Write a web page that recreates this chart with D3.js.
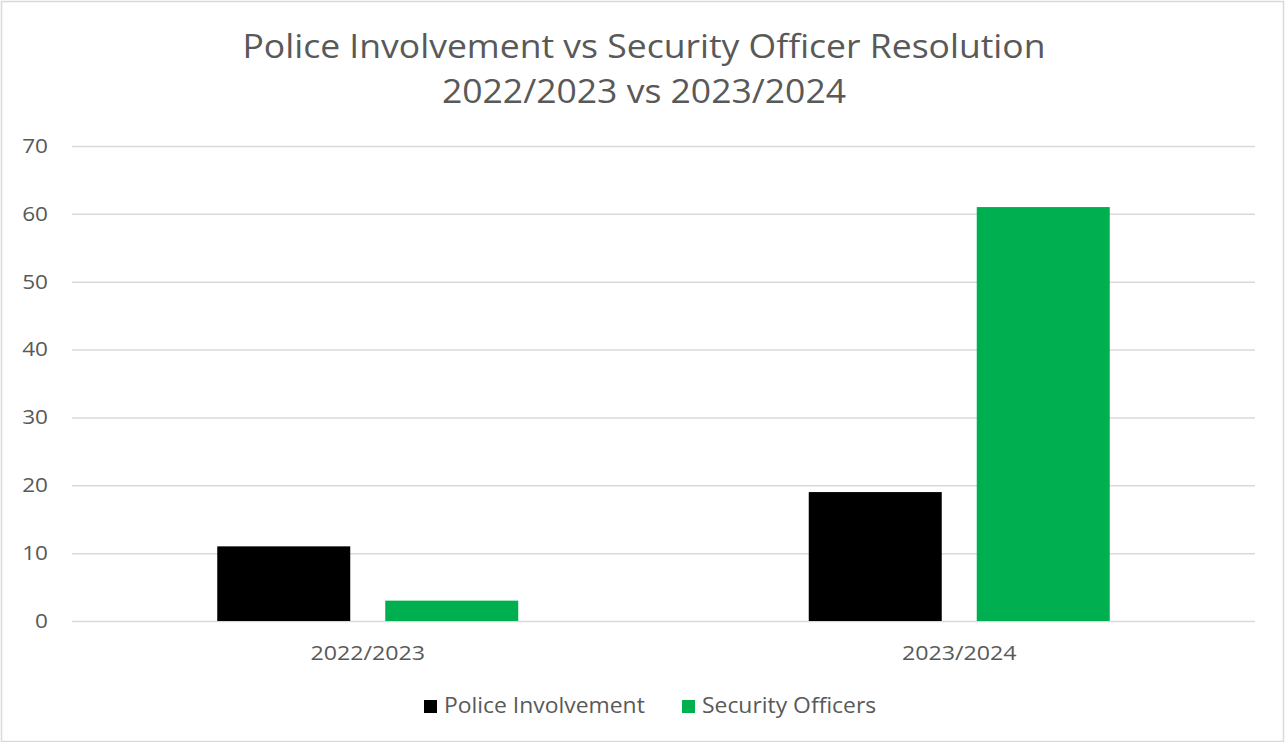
<!DOCTYPE html>
<html>
<head>
<meta charset="utf-8">
<script src="https://cdn.jsdelivr.net/npm/d3@7"></script>
<style>
  html, body { margin: 0; padding: 0; background: #fff; }
  svg { display: block; }
  text { font-family: "Open Sans", "Noto Sans", sans-serif; fill: #595959; }
</style>
</head>
<body>
<svg id="chart" width="1285" height="742"></svg>
<script>
const categories = ["2022/2023", "2023/2024"];
const seriesNames = ["Police Involvement", "Security Officers"];
const policeValues = [11, 19];
const securityValues = [3, 61];
const yTicks = [0, 10, 20, 30, 40, 50, 60, 70];
const titleLines = ["Police Involvement vs Security Officer Resolution", "2022/2023 vs 2023/2024"];
const colors = ["#000000", "#00b050"];

const data = categories.map((c, i) => ({
  category: c,
  values: [policeValues[i], securityValues[i]]
}));

const W = 1285, H = 742;
const plot = { left: 72, right: 1255, top: 146, bottom: 621 };

const svg = d3.select("#chart");

function stretch(sel, factor) {
  sel.each(function () {
    const len = this.getComputedTextLength();
    d3.select(this).attr("textLength", len * factor).attr("lengthAdjust", "spacingAndGlyphs");
  });
}

// outer border
svg.append("rect")
  .attr("x", 1.5).attr("y", 1.5)
  .attr("width", W - 3).attr("height", H - 2)
  .attr("fill", "#fff").attr("stroke", "#d9d9d9").attr("stroke-width", 1.5);

// title
const titleSel = svg.append("g").selectAll("text").data(titleLines).join("text")
  .attr("text-anchor", "middle")
  .attr("x", 644)
  .attr("y", (d, i) => 58 + i * 45)
  .style("font-size", "32px")
  .text(d => d);
stretch(titleSel, 1.11);

const y = d3.scaleLinear().domain([0, 70]).range([plot.bottom, plot.top]);
const x0 = d3.scaleBand().domain(categories).range([plot.left, plot.right]).paddingInner(0).paddingOuter(0);
const x1 = d3.scaleBand().domain(seriesNames).range([-150.5, 150.5]).paddingInner(35 / 168).paddingOuter(0);

// gridlines
const yAxis = d3.axisLeft(y).tickValues(yTicks).tickSize(-(plot.right - plot.left)).tickPadding(24);
const gy = svg.append("g").attr("transform", `translate(${plot.left},0)`).call(yAxis);
gy.select(".domain").remove();
gy.selectAll(".tick line").attr("stroke", "#d9d9d9").attr("stroke-width", 1.5);
const yt = gy.selectAll(".tick text").style("font-size", "20px").attr("fill", "#595959").attr("font-family", null);
stretch(yt, 1.13);

// bars
const groups = svg.append("g").selectAll("g").data(data).join("g")
  .attr("transform", d => `translate(${x0(d.category) + x0.bandwidth() / 2},0)`);
groups.selectAll("rect").data(d => d.values.map((v, i) => ({ v, s: seriesNames[i], i })))
  .join("rect")
  .attr("x", d => x1(d.s))
  .attr("width", x1.bandwidth())
  .attr("y", d => y(d.v))
  .attr("height", d => y(0) - y(d.v))
  .attr("fill", d => colors[d.i]);

// x axis
const xAxis = d3.axisBottom(x0).tickSize(0).tickPadding(25);
const gx = svg.append("g").attr("transform", `translate(0,${plot.bottom})`).call(xAxis);
gx.select(".domain").remove();
const xt = gx.selectAll(".tick text").style("font-size", "20px").attr("fill", "#595959").attr("font-family", null);
stretch(xt, 1.16);

// legend
const legendItems = [
  { name: seriesNames[0], color: colors[0], x: 424 },
  { name: seriesNames[1], color: colors[1], x: 682 }
];
const lg = svg.append("g").selectAll("g").data(legendItems).join("g")
  .attr("transform", d => `translate(${d.x},706)`);
lg.append("rect").attr("x", 0).attr("y", -6).attr("width", 13).attr("height", 13).attr("fill", d => d.color);
const lt = lg.append("text").attr("x", 20).attr("y", 7).style("font-size", "21px").text(d => d.name);
stretch(lt, 1.09);
</script>
</body>
</html>
